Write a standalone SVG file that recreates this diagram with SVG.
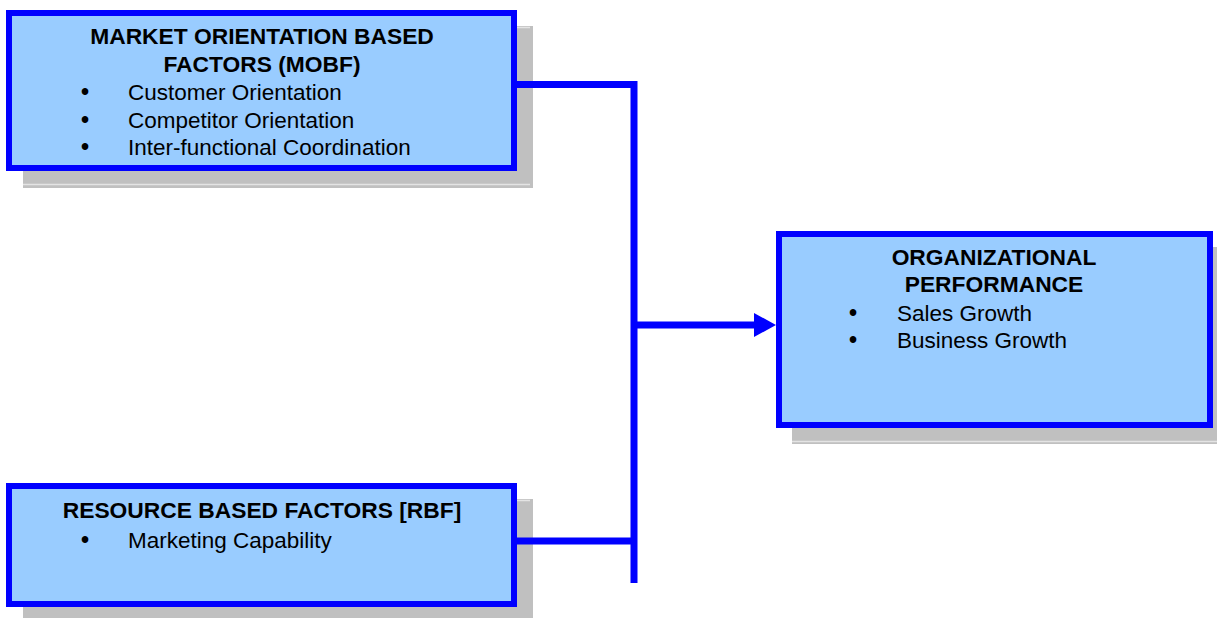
<svg xmlns="http://www.w3.org/2000/svg" width="1217" height="618" viewBox="0 0 1217 618">
<style>
.shadow{fill:#C0C0C0}
.shline{stroke:#E4E4E4;stroke-width:1.5;fill:none}
.box{fill:#99CCFF;stroke:#0000FF;stroke-width:6}
.title{font-family:"Liberation Sans",Arial,sans-serif;font-weight:bold;font-size:22.8px;fill:#000;text-anchor:middle}
.item{font-family:"Liberation Sans",Arial,sans-serif;font-size:22.5px;fill:#000}
.bul{font-family:"Liberation Sans",Arial,sans-serif;font-size:23px;font-weight:bold;fill:#000;text-anchor:middle}
.conn{stroke:#0000FF;stroke-width:7;fill:none}
</style>
<rect width="1217" height="618" fill="#FFFFFF"/>
<g id="mobf">
<rect class="shadow" x="23" y="26" width="510" height="162"/>
<line class="shline" x1="23" y1="184.5" x2="530" y2="184.5"/>
<line class="shline" x1="517" y1="27.5" x2="530" y2="27.5"/>
<rect class="box" x="9" y="13" width="505" height="155"/>
<text class="title" x="262" y="44">MARKET ORIENTATION BASED</text>
<text class="title" x="262" y="72">FACTORS (MOBF)</text>
<text class="bul" x="85" y="100">•</text>
<text class="item" x="128" y="100">Customer Orientation</text>
<text class="bul" x="85" y="128">•</text>
<text class="item" x="128" y="128">Competitor Orientation</text>
<text class="bul" x="85" y="155">•</text>
<text class="item" x="128" y="155">Inter-functional Coordination</text>
</g>
<g id="rbf">
<rect class="shadow" x="23" y="499" width="510" height="119"/>
<line class="shline" x1="517" y1="500.5" x2="530" y2="500.5"/>
<rect class="box" x="9" y="486" width="505" height="118"/>
<text class="title" x="262" y="518">RESOURCE BASED FACTORS [RBF]</text>
<text class="bul" x="85" y="548">•</text>
<text class="item" x="128" y="548">Marketing Capability</text>
</g>
<g id="op">
<rect class="shadow" x="792" y="247" width="425" height="197"/>
<line class="shline" x1="792" y1="441.5" x2="1217" y2="441.5"/>
<rect class="box" x="779" y="234" width="431" height="191"/>
<text class="title" x="994" y="265">ORGANIZATIONAL</text>
<text class="title" x="994" y="292">PERFORMANCE</text>
<text class="bul" x="853" y="321">•</text>
<text class="item" x="897" y="321">Sales Growth</text>
<text class="bul" x="853" y="348">•</text>
<text class="item" x="897" y="348">Business Growth</text>
</g>
<g id="connectors">
<path class="conn" d="M517,84.5 H634"/>
<path class="conn" d="M634,81 V583"/>
<path class="conn" d="M517,541 H634"/>
<path class="conn" d="M634,325 H758"/>
<polygon points="754,313 776,325 754,337" fill="#0000FF"/>
</g>
</svg>
